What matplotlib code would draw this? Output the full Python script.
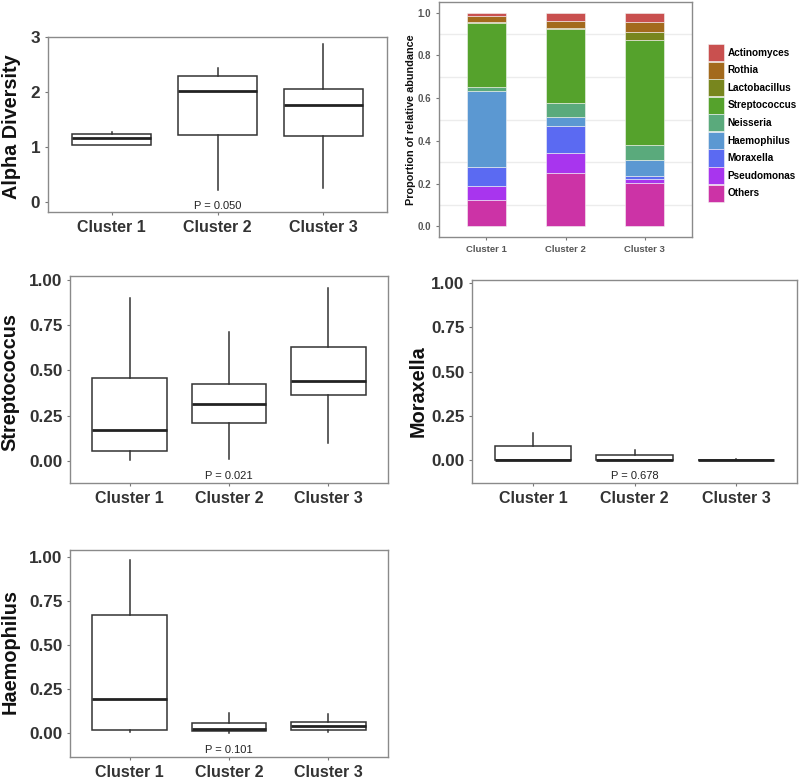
import numpy as np
import matplotlib.pyplot as plt

plt.rcParams['font.family'] = ['Liberation Sans', 'DejaVu Sans']

# data
clusters = ['Cluster 1', 'Cluster 2', 'Cluster 3']

# boxplot stats per cluster: lower whisker, q1, median, q3, upper whisker
alpha_lo = [1.03, 0.22, 0.25]
alpha_q1 = [1.04, 1.22, 1.21]
alpha_med = [1.16, 2.02, 1.76]
alpha_q3 = [1.24, 2.29, 2.06]
alpha_hi = [1.28, 2.43, 2.87]

strep_lo = [0.005, 0.01, 0.096]
strep_q1 = [0.055, 0.207, 0.364]
strep_med = [0.17, 0.312, 0.443]
strep_q3 = [0.46, 0.425, 0.63]
strep_hi = [0.90, 0.71, 0.954]

morax_lo = [0.0, 0.0, 0.0]
morax_q1 = [0.0, 0.0, 0.0]
morax_med = [0.002, 0.002, 0.003]
morax_q3 = [0.083, 0.032, 0.005]
morax_hi = [0.154, 0.06, 0.01]

haemo_lo = [0.005, 0.002, 0.005]
haemo_q1 = [0.019, 0.008, 0.015]
haemo_med = [0.192, 0.025, 0.04]
haemo_q3 = [0.671, 0.059, 0.062]
haemo_hi = [0.985, 0.114, 0.11]

p_values = ['P = 0.050', 'P = 0.021', 'P = 0.678', 'P = 0.101']

# relative abundance, stacked from bottom to top
genera = ['Others', 'Pseudomonas', 'Moraxella', 'Haemophilus', 'Neisseria',
          'Streptococcus', 'Lactobacillus', 'Rothia', 'Actinomyces']
abund_c1 = [0.124, 0.064, 0.090, 0.355, 0.018, 0.302, 0.003, 0.029, 0.015]
abund_c2 = [0.250, 0.093, 0.125, 0.045, 0.062, 0.350, 0.003, 0.033, 0.039]
abund_c3 = [0.203, 0.019, 0.012, 0.078, 0.068, 0.490, 0.039, 0.049, 0.042]
genus_colors = ['#CC33A6', '#A835EE', '#5B6AF2', '#5B98D2', '#5AAA7C',
                '#55A22C', '#78861E', '#A36A1D', '#C9504F']

W, H = 799, 780
fig = plt.figure(figsize=(W / 100, H / 100), dpi=100)


def add_ax(l, t, r, b):
    # axes placed by pixel box
    return fig.add_axes([l / W, 1 - b / H, (r - l) / W, (b - t) / H])


def ylabel(x, y, s, size):
    fig.text(x / W, 1 - y / H, s, rotation=90, ha='center', va='center',
             fontsize=size, fontweight='bold', color='#111111')


def style(ax, size=11.5, ysize=12.3, tc='#333333'):
    for sp in ax.spines.values():
        sp.set_color('#8a8a8a')
        sp.set_linewidth(1.0)
    ax.tick_params(length=2.5, width=0.8, color='#777777', pad=3,
                   labelsize=size, labelcolor=tc)
    ax.tick_params(axis='y', labelsize=ysize)
    for lab in ax.get_xticklabels() + ax.get_yticklabels():
        lab.set_fontweight('bold')


def boxpanel(ax, lo, q1, med, q3, hi, ylim, yticks, fmt, ptext, py):
    stats = []
    for i in range(3):
        stats.append({'whislo': lo[i], 'q1': q1[i], 'med': med[i],
                      'q3': q3[i], 'whishi': hi[i], 'fliers': []})
    ax.bxp(stats, positions=[1, 2, 3], widths=0.75, showcaps=False,
           showfliers=False, patch_artist=True,
           boxprops=dict(facecolor='white', edgecolor='#333333', linewidth=1.1),
           whiskerprops=dict(color='#333333', linewidth=1.1),
           medianprops=dict(color='#222222', linewidth=2.0))
    ax.set_xlim(0.4, 3.6)
    ax.set_ylim(*ylim)
    ax.set_yticks(yticks)
    ax.set_yticklabels([fmt.format(v) for v in yticks])
    ax.set_xticks([1, 2, 3])
    ax.set_xticklabels(clusters)
    ax.text(2, py, ptext, ha='center', va='center', fontsize=8, color='#222222')
    style(ax)


# Alpha diversity
ax1 = add_ax(48, 37, 387, 212)
boxpanel(ax1, alpha_lo, alpha_q1, alpha_med, alpha_q3, alpha_hi,
         (-0.18, 3.0), [0, 1, 2, 3], '{:.0f}', p_values[0], -0.07)
ylabel(12, 127, 'Alpha Diversity', 14.3)

# Streptococcus
ax3 = add_ax(70, 276, 388, 483)
boxpanel(ax3, strep_lo, strep_q1, strep_med, strep_q3, strep_hi,
         (-0.123, 1.022), [0, 0.25, 0.5, 0.75, 1.0], '{:.2f}', p_values[1], -0.085)
ylabel(10, 382, 'Streptococcus', 14.3)

# Moraxella
ax4 = add_ax(472, 280, 797, 483)
boxpanel(ax4, morax_lo, morax_q1, morax_med, morax_q3, morax_hi,
         (-0.127, 1.015), [0, 0.25, 0.5, 0.75, 1.0], '{:.2f}', p_values[2], -0.09)
ylabel(418, 391, 'Moraxella', 14.3)

# Haemophilus
ax5 = add_ax(70, 550, 388, 757)
boxpanel(ax5, haemo_lo, haemo_q1, haemo_med, haemo_q3, haemo_hi,
         (-0.137, 1.04), [0, 0.25, 0.5, 0.75, 1.0], '{:.2f}', p_values[3], -0.095)
ylabel(10, 652, 'Haemophilus', 14.3)

# Stacked relative abundance
ax2 = add_ax(439, 2, 692, 237)
x = np.arange(1, 4)
abund = np.array([abund_c1, abund_c2, abund_c3])
bottom = np.zeros(3)
handles = []
for j, g in enumerate(genera):
    b = ax2.bar(x, abund[:, j], bottom=bottom, width=0.5, color=genus_colors[j],
                edgecolor='#f4f4f4', linewidth=0.4, label=g, zorder=2)
    handles.append(b)
    bottom += abund[:, j]
ax2.set_xlim(0.4, 3.6)
ax2.set_ylim(-0.05, 1.05)
ax2.set_yticks([0, 0.2, 0.4, 0.6, 0.8, 1.0])
ax2.set_yticklabels(['0.0', '0.2', '0.4', '0.6', '0.8', '1.0'])
ax2.set_yticks([0.1, 0.3, 0.5, 0.7, 0.9], minor=True)
ax2.tick_params(which='minor', length=0)
ax2.grid(axis='y', which='minor', color='#ececec', linewidth=1.0, zorder=0)
ax2.set_xticks(x)
ax2.set_xticklabels(clusters)
style(ax2, size=6.8, ysize=7, tc='#555555')
ylabel(411, 120, 'Proportion of relative abundance', 7.8)

leg = fig.legend(handles[::-1], genera[::-1], loc='upper left',
                 bbox_to_anchor=(708 / W, 1 - 44 / H), frameon=False,
                 prop={'weight': 'bold', 'size': 7.2}, handlelength=1.6,
                 handleheight=2.25, labelspacing=0.05, handletextpad=0.35,
                 borderpad=0, borderaxespad=0)

fig.savefig('out.png', dpi=100)
